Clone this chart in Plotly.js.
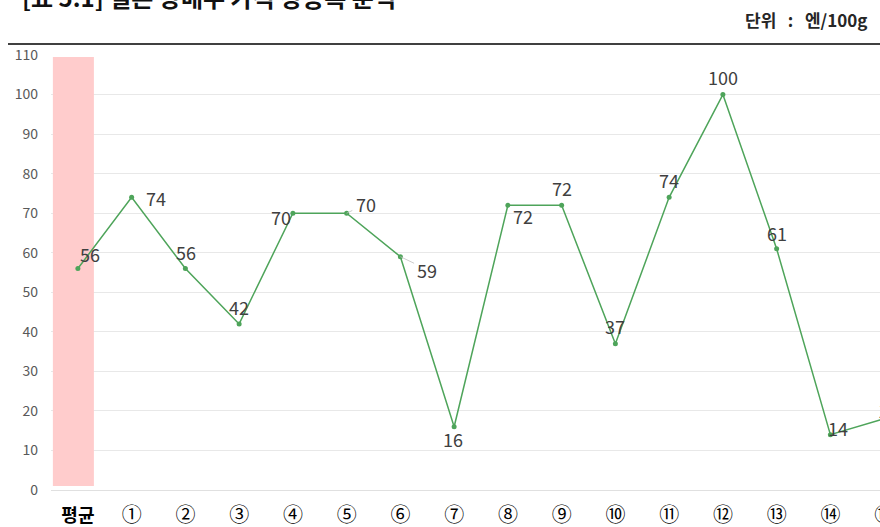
<!DOCTYPE html>
<html>
<head>
<meta charset="utf-8">
<script src="https://cdn.plot.ly/plotly-3.0.1.min.js"></script>
<style>
html,body{margin:0;padding:0;overflow:hidden;background:#fff;width:880px;height:527px;}
#chart{position:absolute;left:0;top:0;width:921px;height:527px;}
</style>
</head>
<body>
<div id="chart"></div>
<script>
// ---- data ----
const categories = ['평균','①','②','③','④','⑤','⑥','⑦','⑧','⑨','⑩','⑪','⑫','⑬','⑭','⑮'];
const tickLabels = ['평균','①','②','③','④','⑤','⑥','⑦','⑧','⑨','⑩','⑪','⑫','⑬','⑭','⑮'];
const priceRise = [56, 74, 56, 42, 70, 70, 59, 16, 72, 72, 37, 74, 100, 61, 14, 18];
const highlightCategory = ['평균'];
const highlightTop = [109.5];
const highlightBase = [1];
const yTicks = [0,10,20,30,40,50,60,70,80,90,100,110];
const titleText = '[표 5.1] 일본 상매우 가격 상승폭 분석';
const unitText = '단위\u00a0\u00a0\u00a0:\u00a0\u00a0\u00a0엔/100g';

// ---- label placement (styling) ----
const labelDx = [12, 24, 1, 0, -12, 19, 27, -1, 15, 0, 0, 0, 0, 0, 8, 4];
const labelDy = [-15, 1, -17, -17, 4, -9, 13, 12, 11, -17, -18, -17, -18, -16, -7, -9];
const labelLeader = [false,false,false,false,false,true,true,false,false,false,false,false,false,false,false,false];

const FONT = '"Noto Sans CJK KR", "Noto Sans", sans-serif';
const L = 51, T = 55, B = 37, W = 921, H = 527, R = W - L - 860;
const plotH = H - T - B;

const annotations = categories.map((c, i) => {
  const a = {
    x: c, y: priceRise[i], xref: 'x', yref: 'y',
    text: String(priceRise[i]),
    font: {family: FONT, size: 18, color: '#404040'},
    xanchor: 'center', yanchor: 'middle'
  };
  if (labelLeader[i]) {
    Object.assign(a, {showarrow: true, ax: labelDx[i], ay: labelDy[i], arrowhead: 0,
      arrowwidth: 0.8, arrowcolor: '#bfbfbf', standoff: 0, startstandoff: 2});
  } else {
    Object.assign(a, {showarrow: false, xshift: labelDx[i], yshift: -labelDy[i]});
  }
  return a;
});

annotations.push({
  xref: 'paper', yref: 'paper', x: (20 - L) / 860, y: 1 + (T + 4) / plotH,
  xanchor: 'left', yanchor: 'middle', showarrow: false,
  text: '<b>' + titleText + '</b>',
  font: {family: FONT, size: 24, color: '#111'}
});
annotations.push({
  xref: 'paper', yref: 'paper', x: (869 - L) / 860, y: 1 + (T - 20) / plotH,
  xanchor: 'right', yanchor: 'middle', showarrow: false,
  text: '<b>' + unitText + '</b>',
  font: {family: FONT, size: 17, color: '#262626'}
});

const tickText = tickLabels.map((t, i) => i === 0
  ? '<span style="font-size:18px;font-weight:bold">' + t + '</span>' : t);

const traces = [
  {
    type: 'bar', x: highlightCategory, y: highlightTop.map((v, i) => v - highlightBase[i]),
    base: highlightBase, width: 0.763, offset: -0.465,
    marker: {color: '#ffcccc', line: {width: 0}}, hoverinfo: 'skip', showlegend: false
  },
  {
    type: 'scatter', mode: 'lines+markers', x: categories, y: priceRise,
    line: {color: '#4ea45a', width: 1.5},
    marker: {color: '#4ea45a', size: 5}, showlegend: false, cliponaxis: false
  }
];

const layout = {
  width: W, height: H,
  margin: {l: L, r: R, t: T, b: B, pad: 0},
  paper_bgcolor: '#fff', plot_bgcolor: '#fff',
  font: {family: FONT},
  showlegend: false,
  xaxis: {
    type: 'category', range: [-0.5, 15.5],
    tickvals: categories, ticktext: tickText,
    tickfont: {family: FONT, size: 20, color: '#000'},
    ticks: '', showgrid: false, zeroline: false, showline: false,
    ticklabelstandoff: 11, fixedrange: true
  },
  yaxis: {
    range: [0, 110], tickvals: yTicks,
    tickfont: {family: FONT, size: 14, color: '#595959'},
    ticks: '', showgrid: true, gridcolor: '#e8e8e8', gridwidth: 1,
    zeroline: true, zerolinecolor: '#e0e0e0', zerolinewidth: 1,
    showline: false, ticklabelstandoff: 12, fixedrange: true
  },
  shapes: [{
    type: 'line', xref: 'paper', yref: 'paper',
    x0: (8 - L) / 860, x1: (W - L) / 860,
    y0: 1 + (T - 44) / plotH, y1: 1 + (T - 44) / plotH,
    line: {color: '#000', width: 1.5}
  }],
  annotations: annotations
};

Plotly.newPlot('chart', traces, layout, {displayModeBar: false, staticPlot: true});
</script>
</body>
</html>
